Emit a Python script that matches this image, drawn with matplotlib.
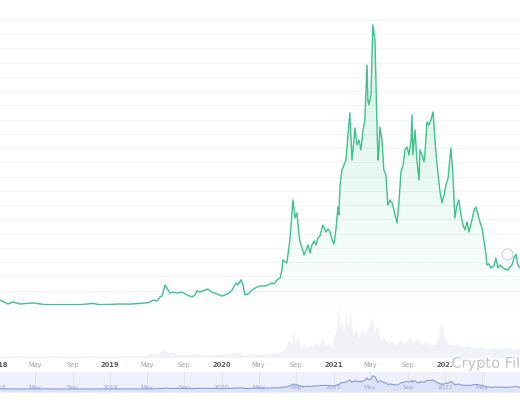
import numpy as np
import matplotlib
matplotlib.use("Agg")
import matplotlib.pyplot as plt
import matplotlib.dates as mdates
import matplotlib.colors as mcolors
import matplotlib.patheffects as pe

# price trace (days counted from 2018-01-01)
days = [6, 32, 48, 71, 113, 153, 202, 267, 309, 332, 365, 388, 430, 486,
        496, 506, 519, 528, 535, 541, 545, 555, 561, 571, 584, 600, 617, 633,
        643, 649, 659, 676, 685, 698, 715, 731, 741, 754, 764, 777, 783, 793,
        800, 806, 816, 829, 839, 855, 872, 881, 894, 901, 911, 921, 927, 930,
        943, 953, 963, 970, 976, 983, 986, 993, 999, 1006, 1012, 1019, 1025,
        1032, 1038, 1045, 1051, 1061, 1071, 1078, 1084, 1091, 1097, 1104, 1110,
        1113, 1117, 1123, 1130, 1136, 1143, 1149, 1156, 1162, 1166, 1172, 1179,
        1185, 1192, 1198, 1205, 1208, 1211, 1218, 1224, 1231, 1238, 1241, 1244,
        1247, 1254, 1260, 1267, 1273, 1280, 1287, 1293, 1303, 1310, 1316, 1323,
        1329, 1336, 1342, 1349, 1352, 1355, 1362, 1368, 1375, 1378, 1385, 1391,
        1394, 1401, 1407, 1414, 1421, 1427, 1434, 1443, 1450, 1457, 1463, 1470,
        1479, 1486, 1492, 1499, 1505, 1512, 1519, 1525, 1532, 1538, 1548, 1555,
        1561, 1568, 1574, 1581, 1587, 1594, 1597, 1604, 1610, 1620, 1626, 1633,
        1640, 1646, 1656, 1666, 1672, 1679, 1685, 1692, 1698, 1705]
price = [2.6, 0.5, 1.6, 0.5, 1.1, 0.2, 0.2, 0.2, 0.8, 0.2, 0.3, 0.5, 0.5, 1.1,
         1.6, 2.6, 2.1, 4.2, 4.7, 7.9, 10.5, 7.9, 6.3, 6.8, 6.3, 6.8, 5.3, 4.2,
         5.3, 7.4, 6.8, 7.9, 8.4, 6.8, 5.8, 4.7, 5.3, 6.3, 7.9, 11.6, 10.5, 13.2,
         10.5, 5.3, 5.8, 7.9, 8.9, 10.0, 10.0, 10.5, 11.6, 11.1, 13.2, 14.2, 18.4,
         23.7, 22.1, 34.2, 55.3, 45.8, 48.4, 36.8, 33.2, 30.0, 26.3, 28.9, 31.6,
         27.4, 31.6, 33.7, 31.6, 35.3, 36.3, 42.1, 38.4, 40.0, 38.4, 34.2, 32.1,
         40.5, 51.6, 47.4, 63.2, 71.1, 73.7, 76.3, 89.5, 101.1, 76.3, 86.8, 93.2,
         84.2, 86.8, 81.6, 92.1, 97.4, 126.3, 107.9, 105.3, 110.5, 147.4, 139.5,
         92.1, 76.3, 81.6, 93.7, 86.8, 71.1, 68.4, 52.6, 55.3, 53.7, 50.0, 43.2,
         55.3, 70.0, 73.7, 81.6, 83.2, 78.9, 86.8, 100.0, 78.9, 92.1, 76.3, 65.8,
         81.6, 78.9, 75.3, 78.9, 96.3, 94.7, 97.4, 101.6, 86.8, 73.7, 60.5, 53.7,
         57.9, 63.2, 66.8, 82.6, 68.4, 45.8, 52.6, 55.3, 47.4, 42.1, 39.5, 43.7,
         38.4, 44.7, 50.0, 51.6, 47.4, 43.7, 40.5, 34.2, 26.3, 21.1, 21.6, 19.5,
         20.5, 24.7, 19.5, 21.1, 20.0, 18.9, 18.4, 20.0, 21.1, 24.7, 26.8, 21.1,
         19.5]

# trading volume (relative heights)
vol_days = [0, 60, 120, 180, 240, 300, 360, 420, 480, 500, 520, 540, 555, 570,
            590, 620, 650, 680, 710, 740, 770, 790, 800, 830, 860, 890, 920, 940,
            950, 960, 966, 972, 980, 990, 1000, 1010, 1020, 1030, 1040, 1050,
            1060, 1070, 1080, 1090, 1100, 1108, 1114, 1118, 1124, 1130, 1138,
            1145, 1152, 1160, 1170, 1180, 1190, 1200, 1210, 1218, 1224, 1230,
            1240, 1250, 1260, 1275, 1290, 1300, 1315, 1330, 1345, 1355, 1370,
            1385, 1400, 1415, 1430, 1440, 1450, 1458, 1470, 1485, 1500, 1520,
            1540, 1560, 1580, 1600, 1620, 1640, 1660, 1680, 1705]
volume = [1, 1.5, 1, 1.5, 1, 1.5, 1, 1.5, 2, 4, 3, 8, 5, 6, 3, 3, 4, 2.5, 3, 3,
          4, 6, 3, 4, 3, 4, 5, 8, 18, 12, 28, 14, 20, 10, 15, 9, 14, 10, 16, 11,
          20, 12, 15, 10, 22, 30, 53, 28, 40, 25, 45, 30, 48, 22, 30, 20, 28, 22,
          30, 35, 42, 25, 32, 18, 22, 14, 16, 12, 18, 13, 20, 15, 18, 13, 16, 12,
          14, 22, 35, 20, 15, 12, 14, 10, 12, 9, 11, 8, 10, 9, 11, 8, 10]

# x axis ticks (days from 2018-01-01)
tick_days = [0, 120, 243, 365, 485, 608, 730, 851, 974, 1096, 1216, 1339, 1461, 1581]
tick_labels = ["2018", "May", "Sep", "2019", "May", "Sep", "2020", "May", "Sep",
               "2021", "May", "Sep", "2022", "May"]

green = "#3cc48b"
base = mdates.date2num(np.datetime64("2018-01-01"))
x = base + np.array(days, dtype=float)
y = np.array(price)
vx = base + np.array(vol_days, dtype=float)
tx = base + np.array(tick_days, dtype=float)
xlim = (base + 5.6, base + 1705)

fig = plt.figure(figsize=(5.2, 4), dpi=100)

# main price panel
ax = fig.add_axes([0, 0.2375, 1, 0.7625])
for lvl in np.arange(0, 151, 7.5):
    ax.axhline(lvl, color="#f5f5f7", lw=0.7, zorder=0)
poly = ax.fill_between(x, y, 0, color="none", lw=0)
grad = np.linspace(0, 1, 256)
rgba = np.zeros((256, 1, 4))
rgba[:, 0, :3] = mcolors.to_rgb(green)
rgba[:, 0, 3] = 0.015 + 0.21 * grad
im = ax.imshow(rgba, extent=[x.min(), x.max(), 0, y.max()], origin="lower",
               aspect="auto", zorder=1)
im.set_clip_path(poly.get_paths()[0], transform=ax.transData)
ax.plot(x, y, color=green, lw=1.0, zorder=3)
# small badge on the right
ax.plot([base + 1663], [27], marker="o", ms=8, mfc="white", mec="#c9cbd6",
        mew=0.7, zorder=4)
ax.set_xlim(*xlim)
ax.set_ylim(0, 160.5)
ax.axis("off")

# volume panel
axv = fig.add_axes([0, 0.105, 1, 0.1325])
axv.fill_between(vx, volume, 0, color="#f1f2f7", lw=0)
axv.axhline(0, color="#f0f0f0", lw=0.6)
axv.set_xlim(*xlim)
axv.set_ylim(0, 53)
axv.axis("off")
for t, lab in zip(tx, tick_labels):
    yr = lab.isdigit()
    axv.text(t, -0.13, lab, transform=axv.get_xaxis_transform(), ha="center",
             va="center", fontsize=4.8, clip_on=False,
             color="#555a63" if yr else "#9ca0a8",
             fontweight="bold" if yr else "normal")

# navigator panel
axn = fig.add_axes([0, 0.02, 1, 0.05])
axn.set_facecolor("#eef1fc")
for t in tx:
    axn.axvline(t, color="#d8ddf3", lw=0.5, zorder=1)
axn.fill_between(x, y, -34, color="#dde3f9", lw=0, zorder=2)
axn.plot(x, y, color="#8599e0", lw=0.8, zorder=3)
for t, lab in zip(tx, tick_labels):
    axn.text(t, 0.22, lab, transform=axn.get_xaxis_transform(), ha="center",
             va="center", fontsize=4.5, color="#9aa6cc", clip_on=False, zorder=4)
axn.set_xlim(*xlim)
axn.set_ylim(-34, 192)
axn.set_xticks([])
axn.set_yticks([])
for s in axn.spines.values():
    s.set_visible(False)

# watermark
fig.text(0.868, 0.092, "Crypto Fil", fontsize=10.5, color="#c4c4c8",
         ha="left", va="center",
         path_effects=[pe.withStroke(linewidth=2, foreground="white")])

fig.savefig("out.png", dpi=100)
